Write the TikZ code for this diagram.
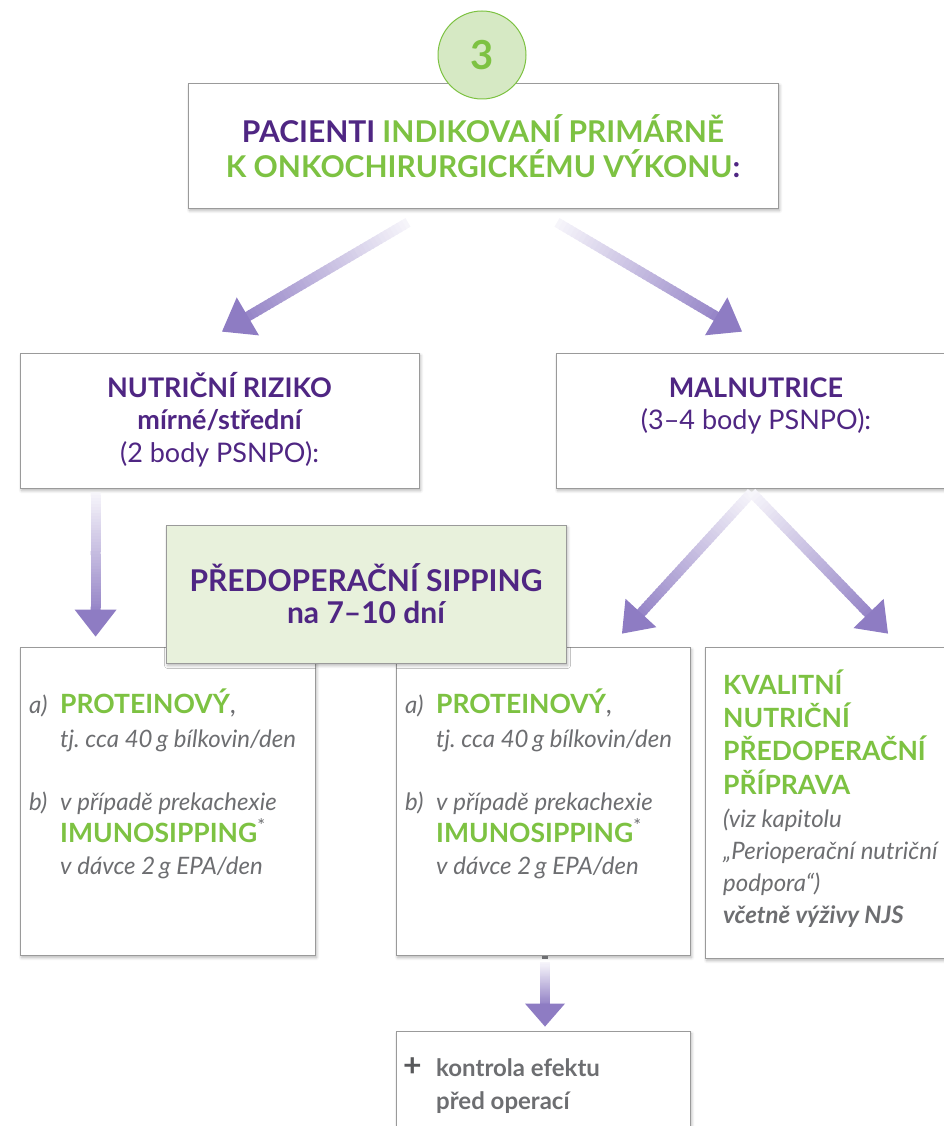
\documentclass[tikz,border=0pt]{standalone}
\usepackage{fontspec}
\setmainfont{Lato}
\frenchspacing
\usetikzlibrary{calc,shadows.blur}
\definecolor{pur}{HTML}{4F2683}
\definecolor{grn}{HTML}{7DC242}
\definecolor{gry}{HTML}{6D6E71}
\definecolor{dgry}{HTML}{58595B}
\definecolor{arr}{HTML}{8E7CC3}
\definecolor{bord}{HTML}{9A9A9A}
\definecolor{lgrn}{HTML}{E8F1DC}
\definecolor{cgrn}{HTML}{D6E9C4}
\newcommand\gradarrow[4]{% start, tip, head length, head half width
  \coordinate (hb) at ($(#2)!#3!(#1)$);
  \foreach \i in {0,...,39}{
    \pgfmathsetmacro\pa{\i/40}
    \pgfmathsetmacro\pb{(\i+1.4)/40}
    \pgfmathtruncatemacro\shd{8+84*\i/39}
    \draw[line width=10pt, draw=arr!\shd!white] ($(#1)!\pa!(hb)$) -- ($(#1)!\pb!(hb)$);
  }
  \fill[arr] (#2) -- ($(hb)!#4!90:(#2)$) -- ($(hb)!#4!-90:(#2)$) -- cycle;
}
\tikzset{
  box/.style={draw=bord, line width=0.8pt, fill=white, inner sep=0pt,
    blur shadow={shadow xshift=1.5pt, shadow yshift=-2.5pt, shadow blur steps=6, shadow blur radius=3pt, shadow opacity=30}},
  txt/.style={inner sep=0pt, anchor=base},
  ltxt/.style={inner sep=0pt, anchor=base west},
  hd/.style={font=\fontsize{27}{31}\selectfont\bfseries, text=pur},
  hr/.style={font=\fontsize{27}{31}\selectfont, text=pur},
  it/.style={font=\fontsize{24}{28}\selectfont\itshape, text=gry},
  gb/.style={font=\fontsize{26.5}{30}\selectfont\bfseries, text=grn},
}
\begin{document}
\begin{tikzpicture}[x=1pt,y=-1pt]
\useasboundingbox (0,0) rectangle (944,1126);
% boxes
\node[box, minimum width=590pt, minimum height=125pt] (title) at (483,145.5) {};
\node[box, minimum width=399pt, minimum height=135pt] (nr) at (219.5,420.5) {};
\node[box, minimum width=394pt, minimum height=135pt] (mal) at (753,420.5) {};
\node[box, minimum width=295pt, minimum height=308pt] (ba) at (167.5,801) {};
\node[box, minimum width=294pt, minimum height=308pt] (bb) at (543,801) {};
\node[box, minimum width=255pt, minimum height=311pt] (bc) at (832.5,802.5) {};
\node[box, minimum width=294pt, minimum height=109pt] (bot) at (543,1085.5) {};
\node[box, fill=lgrn, minimum width=400pt, minimum height=138pt] (sip) at (366,594) {};
\node[circle, draw=grn, line width=1pt, fill=cgrn, minimum size=88pt, inner sep=0pt] (num) at (482,55) {};
\node[txt, font=\fontsize{40}{44}\selectfont\bfseries, text=grn] (numt) at (482,69.5) {3};
% title text
\node[txt, font=\fontsize{30}{34}\selectfont\bfseries] (t1) at (483,142.5) {\textcolor{pur}{PACIENTI} \textcolor{grn}{INDIKOVANÍ PRIMÁRNĚ}};
\node[txt, font=\fontsize{30}{34}\selectfont\bfseries] (t2) at (483,177.5) {\textcolor{grn}{K ONKOCHIRURGICKÉMU VÝKONU}\textcolor{pur}{:}};
% NR
\node[txt, hd] (nr1) at (219.5,397) {NUTRIČNÍ RIZIKO};
\node[txt, hd] (nr2) at (219.5,429) {mírné/střední};
\node[txt, hr] (nr3) at (219.5,462) {(2 body PSNPO):};
% MAL
\node[txt, hd] (m1) at (756,397) {MALNUTRICE};
\node[txt, hr] (m2) at (756,429) {(3–4 body PSNPO):};
% sipping
\node[txt, font=\fontsize{30}{34}\selectfont\bfseries, text=pur] (s1) at (366,591) {PŘEDOPERAČNÍ SIPPING};
\node[txt, font=\fontsize{30}{34}\selectfont\bfseries, text=pur] (s2) at (366,623) {na 7–10 dní};
% box a
\node[ltxt, it] (aa) at (29,713) {a)};
\node[ltxt, gb] (aa1) at (60,713) {PROTEINOVÝ\textcolor{gry}{\mdseries,}};
\node[ltxt, it] (aa2) at (60,747) {tj. cca 40\,g bílkovin/den};
\node[ltxt, it] (ab) at (29,810) {b)};
\node[ltxt, it] (ab1) at (60,810) {v případě prekachexie};
\node[ltxt, gb] (ab2) at (60,842) {IMUNOSIPPING\textcolor{gry}{\mdseries\textsuperscript{*}}};
\node[ltxt, it] (ab3) at (60,874) {v dávce 2\,g EPA/den};
% box b
\node[ltxt, it] (ba0) at (405,713) {a)};
\node[ltxt, gb] (ba1) at (436,713) {PROTEINOVÝ\textcolor{gry}{\mdseries,}};
\node[ltxt, it] (ba2) at (436,747) {tj. cca 40\,g bílkovin/den};
\node[ltxt, it] (bb0) at (405,810) {b)};
\node[ltxt, it] (bb1) at (436,810) {v případě prekachexie};
\node[ltxt, gb] (bb2) at (436,842) {IMUNOSIPPING\textcolor{gry}{\mdseries\textsuperscript{*}}};
\node[ltxt, it] (bb3) at (436,874) {v dávce 2\,g EPA/den};
% box c
\node[ltxt, gb] (c1) at (723,694) {KVALITNÍ};
\node[ltxt, gb] (c2) at (723,727) {NUTRIČNÍ};
\node[ltxt, gb] (c3) at (723,760) {PŘEDOPERAČNÍ};
\node[ltxt, gb] (c4) at (723,794) {PŘÍPRAVA};
\node[ltxt, it] (c5) at (723,827) {(viz kapitolu};
\node[ltxt, it] (c6) at (723,859) {„Perioperační nutriční};
\node[ltxt, it] (c7) at (723,891) {podpora“)};
\node[ltxt, it, font=\fontsize{24}{28}\selectfont\bfseries\itshape] (c8) at (723,923) {včetně výživy NJS};
% bottom
\node[ltxt, font=\fontsize{32}{36}\selectfont\bfseries, text=dgry] (plus) at (403,1076) {+};
\node[ltxt, font=\fontsize{24}{28}\selectfont\bfseries, text=gry] (k1) at (436,1076) {kontrola efektu};
\node[ltxt, font=\fontsize{24}{28}\selectfont\bfseries, text=gry] (k2) at (436,1109) {před operací};
% arrows
\coordinate (a1s) at ($(title.south)+(-75,14)$);
\coordinate (a1t) at ($(nr.north)+(2.5,-21)$);
\coordinate (a2s) at ($(title.south)+(74,14)$);
\coordinate (a2t) at ($(mal.north)+(-11,-21)$);
\coordinate (a3s) at ($(nr.south west)+(76,4)$);
\coordinate (a3t) at ($(ba.north west)+(76,-10)$);
\coordinate (a4s) at ($(mal.south west)+(196,4)$);
\coordinate (a4t) at ($(bb.north)+(79,-13)$);
\coordinate (a5t) at ($(bc.north)+(55.5,-13)$);
\coordinate (a6s) at ($(bb.south)+(2,7)$);
\coordinate (a6t) at ($(bot.north)+(2,-4)$);
\gradarrow{a1s}{a1t}{30pt}{22pt}
\gradarrow{a2s}{a2t}{30pt}{22pt}
\gradarrow{a3s}{a3t}{27pt}{21pt}
\gradarrow{a4s}{a4t}{28pt}{21pt}
\gradarrow{a4s}{a5t}{28pt}{21pt}
\gradarrow{a6s}{a6t}{23pt}{20pt}
\fill[gry] ($(bb.south)+(-1,1)$) rectangle ($(bb.south)+(5,4)$);
\end{tikzpicture}
\end{document}
